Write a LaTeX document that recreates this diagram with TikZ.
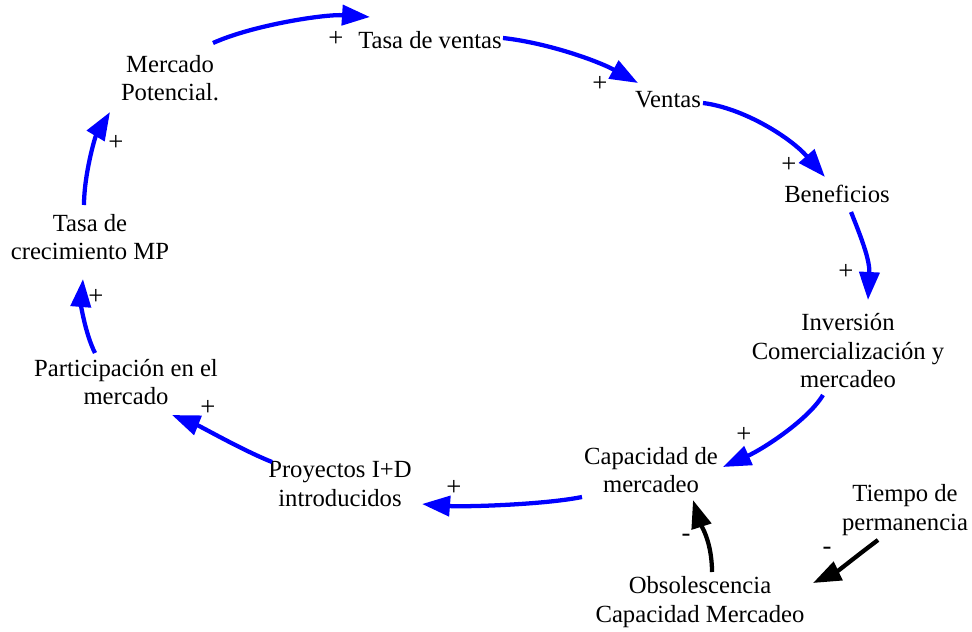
\documentclass[tikz,border=0pt]{standalone}
\usepackage{fontspec}
\setmainfont{Liberation Serif}
\usetikzlibrary{arrows.meta}
\tikzset{
  var/.style={font=\fontsize{18.5}{21.4}\selectfont, align=center, inner sep=0pt},
  sgn/.style={font=\fontsize{20}{22}\selectfont, inner sep=0pt},
  linkblue/.style={draw={rgb,255:red,0;green,0;blue,255}, line width=3.2pt,
    -{Triangle[length=21pt,width=15pt]}},
  linkblack/.style={draw=black, line width=3.2pt,
    -{Triangle[length=21pt,width=15pt]}}
}
\begin{document}
\begin{tikzpicture}[x=0.75pt,y=-0.75pt]
\useasboundingbox (0,0) rectangle (972,632);

% variables
\node[var] (tv)  at (430,40)  {Tasa de ventas};
\node[var] (mp)  at (170,78)  {Mercado\\Potencial.};
\node[var] (ve)  at (668,100) {Ventas};
\node[var] (be)  at (837,194) {Beneficios};
\node[var] (inv) at (848,351) {Inversión\\Comercialización y\\mercadeo};
\node[var] (cap) at (651,470) {Capacidad de\\mercadeo};
\node[var] (pro) at (340,484) {Proyectos I+D\\introducidos};
\node[var] (par) at (126,382) {Participación en el\\mercado};
\node[var] (tc)  at (90,237)  {Tasa de\\crecimiento MP};
\node[var] (tie) at (905,510) {Tiempo de\\permanencia};
\node[var] (obs) at (700,602) {Obsolescencia\\Capacidad Mercadeo};

% polarity signs
\node[sgn] (s1)  at (336,39)  {+};
\node[sgn] (s2)  at (600,84)  {+};
\node[sgn] (s3)  at (789,165) {+};
\node[sgn] (s4)  at (846,272) {+};
\node[sgn] (s5)  at (744,435) {+};
\node[sgn] (s6)  at (454,488) {+};
\node[sgn] (s7)  at (208,408) {+};
\node[sgn] (s8)  at (96,297)  {+};
\node[sgn] (s9)  at (116,143) {+};
\node[sgn] (s10) at (686,538) {-};
\node[sgn] (s11) at (827,551) {-};

% reinforcing loop
\draw[linkblue] ([shift={(43,-35)}]mp.center) .. controls +(40,-18) and +(-45,-3) .. ([shift={(-60,-23)}]tv.center);
\draw[linkblue] ([shift={(73,-2)}]tv.center) .. controls +(45,5) and +(-40,-22) .. ([shift={(-30,-17)}]ve.center);
\draw[linkblue] ([shift={(35,3)}]ve.center) .. controls +(40,5) and +(-35,-40) .. ([shift={(-12,-17)}]be.center);
\draw[linkblue] ([shift={(14,18)}]be.center) .. controls +(10,25) and +(2,-40) .. ([shift={(20,-51)}]inv.center);
\draw[linkblue] ([shift={(-25,44)}]inv.center) .. controls +(-15,25) and +(40,-18) .. ([shift={(72,-3)}]cap.center);
\draw[linkblue] ([shift={(-69,27)}]cap.center) .. controls +(-40,8) and +(40,3) .. ([shift={(82,20)}]pro.center);
\draw[linkblue] ([shift={(-68,-22)}]pro.center) .. controls +(-30,-12) and +(30,12) .. ([shift={(46,33)}]par.center);
\draw[linkblue] ([shift={(-31,-29)}]par.center) .. controls +(-10,-20) and +(-2,25) .. ([shift={(-7,42)}]tc.center);
\draw[linkblue] ([shift={(-6,-32)}]tc.center) .. controls +(0,-30) and +(-15,25) .. ([shift={(-60,34)}]mp.center);

% balancing links
\draw[linkblack] ([shift={(12,-30)}]obs.center) .. controls +(0,-30) and +(8,25) .. ([shift={(42,30)}]cap.center);
\draw[linkblack] ([shift={(-27,30)}]tie.center) .. controls +(-20,15) and +(25,-12) .. ([shift={(113,-19)}]obs.center);
\end{tikzpicture}
\end{document}
